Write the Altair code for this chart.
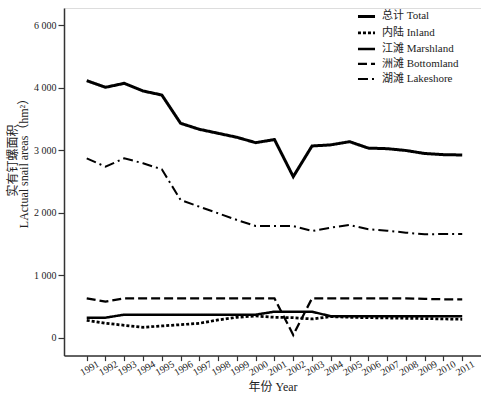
import altair as alt
import pandas as pd

years = list(range(1991, 2012))
series_names = ["总计 Total", "内陆 Inland", "江滩 Marshland", "洲滩 Bottomland", "湖滩 Lakeshore"]
total = [4117, 4011, 4075, 3952, 3888, 3435, 3339, 3275, 3211, 3125, 3175, 2581, 3072, 3090, 3141, 3038, 3029, 3000, 2952, 2933, 2928]
inland = [283, 235, 203, 171, 192, 213, 235, 288, 331, 352, 331, 325, 304, 341, 331, 325, 320, 315, 310, 305, 299]
marshland = [325, 325, 373, 373, 373, 373, 373, 373, 373, 373, 421, 421, 421, 347, 347, 347, 347, 347, 347, 347, 347]
bottomland = [635, 581, 635, 635, 635, 635, 635, 635, 635, 635, 635, 48, 635, 635, 635, 635, 635, 635, 625, 619, 619]
lakeshore = [2875, 2741, 2875, 2795, 2699, 2208, 2101, 1995, 1888, 1792, 1792, 1792, 1712, 1765, 1808, 1739, 1717, 1685, 1659, 1664, 1664]
y_ticks = [0, 1000, 2000, 3000, 4000, 5000]

rows = []
for name, vals in zip(series_names, [total, inland, marshland, bottomland, lakeshore]):
    for yr, v in zip(years, vals):
        rows.append({"year": yr, "value": v, "series": name})
df = pd.DataFrame(rows)

FONT = "'Liberation Serif', 'Noto Sans CJK SC', serif"

leg = dict(title=None, orient="none", legendX=292, legendY=-2,
           symbolType="stroke", symbolSize=290, symbolStrokeColor="black",
           labelFontSize=11, labelFont=FONT, labelColor="#222", padding=0,
           rowPadding=0, labelOffset=5)

common_axis = dict(labelFont=FONT, titleFont=FONT, labelColor="#222", titleColor="#222",
                   domainColor="#333", domainWidth=1.5, tickColor="#333", tickWidth=1.2,
                   grid=False, titleFontWeight="normal")

chart = alt.Chart(df).mark_line(color="black", strokeCap="butt").encode(
    x=alt.X("year:Q",
            scale=alt.Scale(domain=[1989.79, 2012.0], nice=False, zero=False),
            axis=alt.Axis(values=years, format="d", title="年份  Year",
                          labelAngle=-30, labelAlign="center", labelBaseline="top",
                          labelPadding=3, labelFontSize=10, tickSize=5, labelOverlap=False,
                          titleY=31, titleBaseline="middle", titleFontSize=12,
                          **common_axis)),
    y=alt.Y("value:Q",
            scale=alt.Scale(domain=[-282, 5280], nice=False, zero=False),
            axis=alt.Axis(values=y_ticks,
                          labelExpr="datum.value == 5000 ? '6 000' : replace(format(datum.value, ','), ',', ' ')",
                          title=["实有钉螺面积", "LActual snail areas（hm²）"],
                          labelFontSize=10, tickSize=6, labelPadding=2,
                          titleFontSize=12, titleLineHeight=11,
                          titleX=-57, titleY=152, titleBaseline="top", titleAngle=-90,
                          titleAlign="center", **common_axis)),
    strokeDash=alt.StrokeDash("series:N",
                              scale=alt.Scale(domain=series_names,
                                              range=[[1, 0], [3, 2], [1, 0], [9, 4], [10, 4, 2, 4]]),
                              legend=alt.Legend(**leg)),
    strokeWidth=alt.StrokeWidth("series:N",
                                scale=alt.Scale(domain=series_names, range=[3, 2, 1.5, 1.8, 1.5]),
                                legend=alt.Legend(**leg)),
    detail="series:N",
).properties(
    width=417, height=347.6,
    autosize=alt.AutoSizeParams(type="none"),
    padding={"left": 64, "top": 8, "right": 0, "bottom": 48},
).configure_view(stroke=None).configure(background="white")

chart.save("out.html", embed_options={"renderer": "svg", "actions": False})
